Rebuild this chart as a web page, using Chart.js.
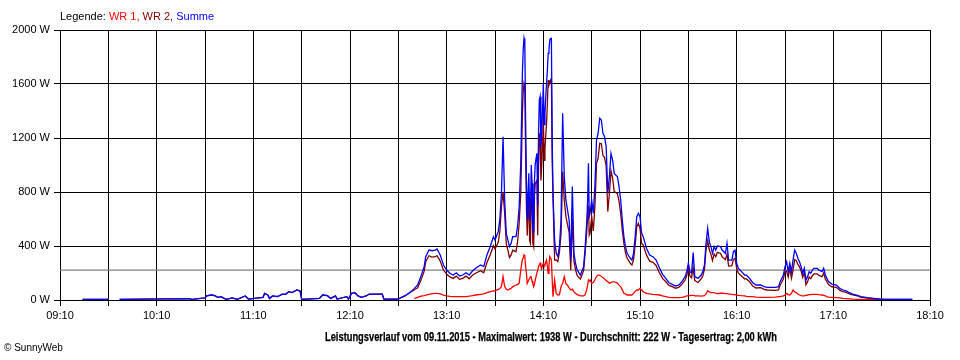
<!DOCTYPE html>
<html>
<head>
<meta charset="utf-8">
<script src="https://cdn.jsdelivr.net/npm/chart.js@4/dist/chart.umd.min.js"></script>
<style>
  html, body { margin: 0; padding: 0; background: #fff; }
  #wrap { position: relative; width: 960px; height: 360px; overflow: hidden; }
  #c { position: absolute; left: 0; top: 0; }
  .txt { position: absolute; font-family: 'Liberation Sans', Arial, sans-serif; white-space: nowrap; color: #000; }
  #legend { left: 60px; top: 10px; font-size: 11px; }
  #title { left: 325px; top: 330px; font-size: 12px; font-weight: bold; transform-origin: 0 0; display: inline-block; -webkit-text-stroke: 0.25px #000; }
  #copy { left: 4px; top: 342px; font-size: 10px; }
</style>
</head>
<body>
<div id="wrap">
  <canvas id="c" width="960" height="360"></canvas>
  <div id="legend" class="txt">Legende: <span style="color:#ff0000">WR 1, </span><span style="color:#800000">WR 2, </span><span style="color:#0000ff">Summe</span></div>
  <div id="title" class="txt">Leistungsverlauf vom 09.11.2015 - Maximalwert: 1938 W - Durchschnitt: 222 W - Tagesertrag: 2,00 kWh</div>
  <div id="copy" class="txt">© SunnyWeb</div>
</div>
<script>
// ---- data ----
const startTime = "09:10";
const xTickLabels = ["09:10","10:10","11:10","12:10","13:10","14:10","15:10","16:10","17:10","18:10"];
const yTicks = [0, 400, 800, 1200, 1600, 2000];
const average = 222;

const times = [
"09:24","09:40","09:44","09:47","10:30","10:32","10:40","10:41","10:44","10:46","10:48","10:50","10:53","10:57","11:00","11:05","11:07","11:16","11:17","11:19","11:20","11:22","11:25","11:28","11:30","11:32","11:34","11:37","11:39","11:40","11:51","11:53","11:56","11:58","12:01","12:02","12:08","12:09","12:11","12:13","12:15","12:17","12:20","12:22","12:30","12:31","12:40","12:42","12:44","12:47",
"12:50","12:52","12:54","12:56","12:57","12:59","13:01","13:03","13:04","13:06","13:08","13:10","13:12","13:14","13:16","13:18","13:20","13:22","13:24","13:26","13:28","13:31","13:33","13:35","13:37","13:39","13:40","13:42","13:43","13:44","13:45","13:46","13:47","13:48","13:49","13:50","13:51","13:53","13:54","13:55","13:56","13:57","13:57:30","13:58","13:58:30","13:59","13:59:30",
"14:00","14:01","14:01:30","14:02","14:02:30","14:03","14:03:30","14:04","14:04:30","14:05","14:06","14:06:30","14:07","14:07:30","14:08","14:08:30","14:09","14:09:30","14:10","14:10:30","14:11","14:11:30","14:12","14:12:30","14:13","14:13:30","14:14","14:14:30","14:15","14:15:30","14:16","14:17","14:18","14:19","14:20","14:21","14:22","14:23","14:24","14:25","14:26","14:27","14:28","14:29","14:30","14:31","14:33","14:35","14:36","14:37","14:37:30","14:38","14:38:30","14:39",
"14:40","14:41","14:42","14:42:30","14:43","14:44","14:45","14:46","14:47","14:48","14:49","14:50","14:51","14:52","14:53","14:54","14:56","14:57","14:58","14:59","15:00","15:01","15:02","15:04","15:05","15:06","15:07","15:08","15:09",
"15:10","15:11","15:12","15:14","15:16","15:18","15:20","15:22","15:24","15:26","15:28","15:30","15:32","15:34","15:36","15:38","15:39","15:40","15:41","15:42","15:43","15:44","15:46","15:48","15:49","15:50","15:51","15:52","15:53","15:54","15:55","15:56","15:57","15:58",
"16:00","16:01","16:03","16:04","16:05","16:07","16:08","16:09","16:10","16:11","16:13","16:15","16:16","16:18","16:20","16:22","16:25","16:27","16:29","16:34","16:36","16:37","16:39","16:40","16:41","16:42","16:43","16:44","16:45","16:46","16:47","16:48","16:49","16:50","16:51","16:52","16:53","16:54","16:55","16:56","16:57","16:58",
"17:00","17:01","17:03","17:04","17:05","17:06","17:07","17:09","17:12","17:14","17:16","17:18","17:20","17:22","17:25","17:27","17:31","17:35","17:39","17:43","17:59"
];

const summe = [
5,5,null,5,10,5,15,30,37,32,20,25,5,15,5,30,7,20,49,37,12,30,25,44,42,62,55,74,67,5,12,37,32,12,30,7,25,7,49,54,30,20,30,44,44,7,7,20,30,54,
86,111,175,245,320,370,365,370,378,333,259,222,198,185,202,178,185,202,185,215,235,259,247,333,395,469,444,506,593,790,1210,741,494,444,395,420,469,469,543,691,1012,1679,1850,1938,1901,1333,889,
600,938,600,593,1000,864,540,494,889,1012,1086,700,1210,1480,1506,1136,1235,1400,1605,1300,1383,1500,1605,1700,1827,1850,1926,1938,1938,1185,790,444,346,321,395,593,1383,913,741,667,593,296,840,346,272,222,185,247,395,593,740,1012,620,642,
741,642,840,1000,1185,1235,1346,1333,1235,1210,1136,790,913,1086,1037,938,913,840,741,593,469,395,346,309,296,346,469,617,642,
617,494,469,383,333,321,296,240,190,160,128,116,104,110,136,173,210,272,210,200,351,173,160,185,210,259,420,531,432,395,346,395,370,400,
395,370,346,420,296,296,358,370,272,235,210,185,185,160,128,111,111,99,94,94,99,136,185,247,284,210,272,210,296,370,346,309,284,247,198,235,148,173,210,198,222,235,
235,222,210,235,185,160,136,118,111,86,74,67,54,44,35,25,17,12,7,5,5
];

const wr1 = [
null,null,null,null,null,null,null,null,null,null,null,null,null,null,null,null,null,null,null,null,null,null,null,null,null,null,null,null,null,null,null,null,null,null,null,null,null,null,null,null,null,null,null,null,null,null,null,null,null,null,
10,20,28,33,37,42,47,49,49,45,37,30,27,25,25,25,25,25,28,32,37,42,45,55,62,67,67,79,85,99,173,100,79,74,80,86,99,111,115,123,222,300,310,333,320,250,198,
123,150,160,173,170,140,120,99,120,150,200,220,247,260,272,250,235,255,272,265,260,280,296,250,198,260,321,310,296,150,25,148,49,37,40,100,123,173,120,110,90,74,80,60,49,40,30,30,40,80,110,148,140,148,
123,130,150,165,173,185,185,175,165,155,145,135,125,130,135,135,125,110,99,75,50,45,37,37,37,49,62,74,74,
86,74,62,49,45,42,40,37,30,25,20,17,17,17,20,25,30,32,32,35,35,30,30,28,30,32,45,69,60,55,54,54,50,47,
50,50,47,47,45,42,40,40,37,35,32,30,27,25,25,22,20,20,20,22,25,25,30,37,49,40,37,49,74,60,54,45,37,32,30,30,35,37,40,40,42,42,
42,40,37,35,30,25,22,20,17,15,12,10,8,6,5,4,3,2,0,0,0
];

const wr2 = [
5,5,null,5,10,5,15,30,37,32,20,25,5,15,5,30,7,20,49,37,12,30,25,44,42,62,55,74,67,5,12,37,32,12,30,7,25,7,49,54,30,20,30,44,44,7,7,20,30,54,
76,91,147,212,283,328,318,321,329,288,222,192,171,160,177,153,160,177,157,183,198,217,202,278,333,402,377,427,508,691,800,641,415,370,315,334,370,358,428,568,790,1379,1540,1605,1581,1083,691,
477,788,440,420,830,724,420,395,769,862,886,480,963,1220,1234,886,1000,1145,1333,1035,1123,1220,1309,1450,1629,1590,1605,1628,1642,1035,765,296,297,284,355,493,950,740,621,557,503,222,600,286,223,182,155,217,355,513,630,700,480,494,
618,512,690,835,1012,1050,1161,1158,1070,1055,991,655,788,956,902,803,788,730,642,518,419,350,309,272,259,297,407,543,568,
531,420,407,334,288,279,256,203,160,135,108,99,87,93,116,148,180,240,178,165,240,143,130,157,180,227,375,440,372,340,292,341,320,353,
345,320,299,340,251,254,300,310,235,200,178,155,158,135,103,89,91,79,74,72,74,111,155,210,215,170,235,161,222,300,292,264,247,215,168,205,113,136,170,158,180,193,
193,182,173,200,155,135,114,98,94,71,62,57,46,38,30,21,14,10,7,5,5
];

// ---- helpers ----
function toMin(t) { const p = t.split(":"); return (+p[0]) * 60 + (+p[1]) + (p[2] ? (+p[2]) / 60 : 0); }
const t0 = toMin(startTime);
const xs = times.map(t => toMin(t) - t0);
const tickLabelSet = new Set(xTickLabels.map(l => toMin(l) - t0));
const xEnd = toMin(xTickLabels[xTickLabels.length - 1]) - t0;
const gridStep = 30;
function fmt(v) {
  const m = Math.round(v + t0); const h = Math.floor(m / 60), mm = m % 60;
  return String(h).padStart(2, "0") + ":" + String(mm).padStart(2, "0");
}
const series = arr => xs.map((x, i) => ({ x: x, y: arr[i] }));

Chart.defaults.font.family = "'Liberation Sans', Arial, sans-serif";
Chart.defaults.font.size = 11;
Chart.defaults.color = "#000";

new Chart(document.getElementById("c"), {
  type: "line",
  data: {
    datasets: [
      { label: "Summe", data: series(summe), borderColor: "#0000ff", borderWidth: 1.3 },
      { label: "WR 2", data: series(wr2), borderColor: "#800000", borderWidth: 1.3 },
      { label: "WR 1", data: series(wr1), borderColor: "#ff0000", borderWidth: 1.3 },
      { label: "Durchschnitt", data: [{ x: 0, y: average }, { x: xEnd, y: average }], borderColor: "#808080", borderWidth: 1.3 }
    ]
  },
  options: {
    responsive: false,
    animation: false,
    events: [],
    spanGaps: false,
    elements: { point: { radius: 0 }, line: { tension: 0 } },
    layout: { padding: { top: 30, right: 30, left: 0, bottom: 0 } },
    plugins: { legend: { display: false }, tooltip: { enabled: false }, title: { display: false } },
    scales: {
      x: {
        type: "linear",
        min: 0,
        max: xEnd,
        afterBuildTicks: s => { const t = []; for (let v = 0; v <= xEnd; v += gridStep) t.push({ value: v }); s.ticks = t; },
        afterFit: s => { s.height = 60; },
        ticks: {
          autoSkip: false, maxRotation: 0, padding: 3,
          callback: v => tickLabelSet.has(v) ? fmt(v) : ""
        },
        grid: { color: "#000", lineWidth: 1, tickLength: 6 },
        border: { color: "#000", width: 1 }
      },
      y: {
        min: 0,
        max: 2000,
        afterBuildTicks: s => { s.ticks = yTicks.map(v => ({ value: v })); },
        afterFit: s => { s.width = 60; },
        ticks: { padding: 4, callback: v => v + " W" },
        grid: { color: "#000", lineWidth: 1, tickLength: 6 },
        border: { color: "#000", width: 1 }
      }
    }
  }
});

// fit title width to reference
const tEl = document.getElementById("title");
const w = tEl.getBoundingClientRect().width;
tEl.style.transform = "scaleX(" + (452 / w) + ")";
</script>
</body>
</html>
